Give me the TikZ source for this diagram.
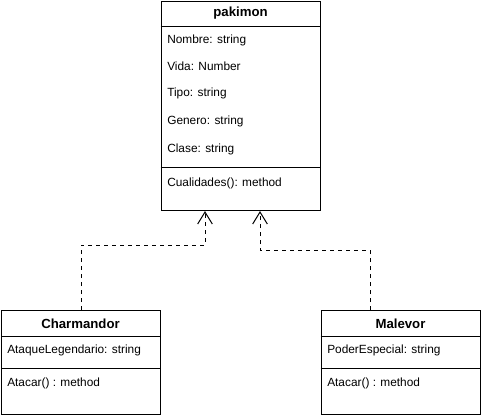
\documentclass[tikz,border=0pt]{standalone}
\usepackage{fontspec}
\setmainfont{Liberation Sans}
\usetikzlibrary{arrows.meta}

\begin{document}
\begin{tikzpicture}[x=0.75pt,y=0.75pt,yscale=-1,xscale=1,
  classbox/.style={draw, rectangle, line width=0.75pt, inner sep=0pt, anchor=north west},
  member/.style={anchor=west, inner sep=0.75pt, font=\fontsize{8.9}{11}\selectfont},
  title/.style={inner sep=0.75pt, font=\fontsize{9.9}{12}\selectfont\bfseries},
  inherit/.style={dashed, line width=0.75pt, -{Straight Barb[length=9pt,width=11pt,line width=0.75pt]}}]
\useasboundingbox (0,0) rectangle (481,415);

%Class pakimon
\node [classbox, minimum width=119.6pt, minimum height=156.8pt] (pakimon) at (160.7,1) {};
\draw (pakimon.north west) ++(0,25.5) coordinate (ph) -- (ph -| pakimon.east);
\draw (pakimon.north west) ++(0,166.5) coordinate (ps) -- (ps -| pakimon.east);
\node [title] (pakimonT) at (240.5,13.5) {pakimon};
\node [member] (nombre) at (166,40) {Nombre: string};
\node [member] (vida) at (166,66) {Vida: Number};
\node [member] (tipo) at (166,93) {Tipo: string};
\node [member] (genero) at (166,121) {Genero: string};
\node [member] (clase) at (166,149) {Clase: string};
\node [member] (cualidades) at (166,183) {Cualidades(): method};

%Class Charmandor
\node [classbox, minimum width=119.3pt, minimum height=78pt] (charm) at (1,310) {};
\draw (charm.north west) ++(0,26) coordinate (ch) -- (ch -| charm.east);
\draw (charm.north west) ++(0,58) coordinate (cs) -- (cs -| charm.east);
\node [title] (charmT) at (80.5,323.5) {Charmandor};
\node [member] (ataqueleg) at (6,350) {AtaqueLegendario: string};
\node [member] (atacarC) at (6,383) {Atacar() : method};

%Class Malevor
\node [classbox, minimum width=119.6pt, minimum height=78pt] (malevor) at (320.7,310) {};
\draw (malevor.north west) ++(0,26) coordinate (mh) -- (mh -| malevor.east);
\draw (malevor.north west) ++(0,58) coordinate (ms) -- (ms -| malevor.east);
\node [title] (malevorT) at (400.5,323.5) {Malevor};
\node [member] (poder) at (326,350) {PoderEspecial: string};
\node [member] (atacarM) at (326,383) {Atacar() : method};

%Inheritance
\coordinate (lbend) at (205,245);
\coordinate (rbend) at (260,250.5);
\coordinate (rfoot) at (370,310);
\draw [inherit] (charm.north) |- (lbend) -- (pakimon.south -| lbend);
\draw [inherit] (rfoot) |- (rbend) -- (pakimon.south -| rbend);

\end{tikzpicture}
\end{document}
